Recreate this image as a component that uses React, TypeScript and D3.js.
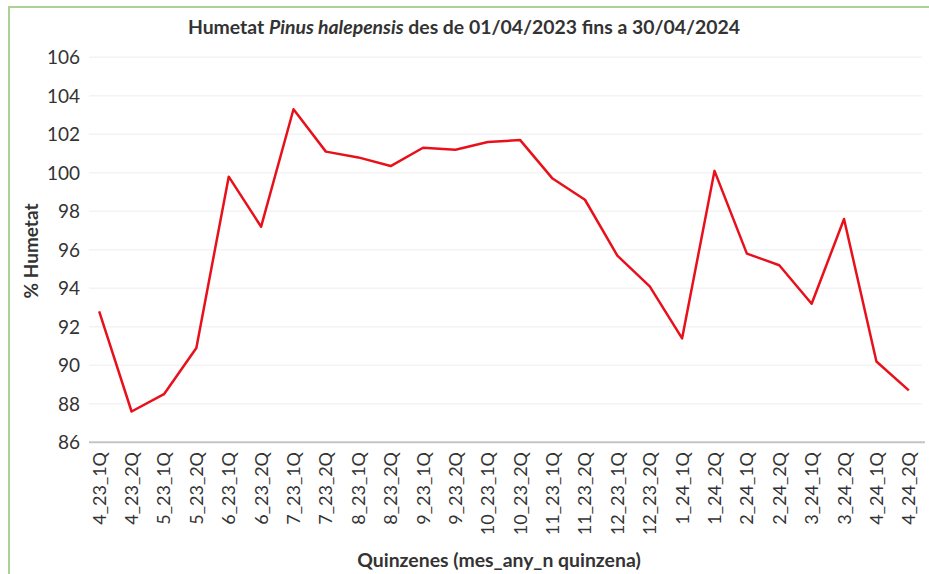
import { useEffect, useRef } from 'react';
import * as d3 from 'd3';

const categories = [
  '4_23_1Q', '4_23_2Q', '5_23_1Q', '5_23_2Q', '6_23_1Q', '6_23_2Q', '7_23_1Q',
  '7_23_2Q', '8_23_1Q', '8_23_2Q', '9_23_1Q', '9_23_2Q', '10_23_1Q', '10_23_2Q',
  '11_23_1Q', '11_23_2Q', '12_23_1Q', '12_23_2Q', '1_24_1Q', '1_24_2Q', '2_24_1Q',
  '2_24_2Q', '3_24_1Q', '3_24_2Q', '4_24_1Q', '4_24_2Q',
];

const humetat = [
  92.8, 87.6, 88.5, 90.9, 99.8, 97.2, 103.3, 101.1, 100.8, 100.35, 101.3, 101.2,
  101.6, 101.7, 99.7, 98.6, 95.7, 94.1, 91.4, 100.1, 95.8, 95.2, 93.2, 97.6, 90.2, 88.7,
];

const yTicks = [86, 88, 90, 92, 94, 96, 98, 100, 102, 104, 106];

const W = 929;
const H = 574;
const FONT = 'Lato, "Open Sans", sans-serif';

export default function App() {
  const svgRef = useRef<SVGSVGElement>(null);

  useEffect(() => {
    const svg = d3.select(svgRef.current);
    svg.selectAll('*').remove();

    const x = d3.scaleBand<string>().domain(categories).range([83, 925]);
    const y = d3.scaleLinear().domain([86, 106]).range([442.3, 57.3]);

    // green frame
    svg.append('rect')
      .attr('x', 9).attr('y', 7)
      .attr('width', W + 20).attr('height', H + 20)
      .attr('fill', 'white')
      .attr('stroke', '#acd292')
      .attr('stroke-width', 2);

    // grid
    svg.append('g')
      .selectAll('line')
      .data(yTicks.slice(1))
      .enter().append('line')
      .attr('x1', 89).attr('x2', 922)
      .attr('y1', d => y(d)).attr('y2', d => y(d))
      .attr('stroke', '#f3f3f3')
      .attr('stroke-width', 1.5);

    // x axis baseline
    svg.append('line')
      .attr('x1', 89).attr('x2', 925)
      .attr('y1', y(86)).attr('y2', y(86))
      .attr('stroke', '#c4c4c4')
      .attr('stroke-width', 2);

    // y tick labels
    svg.append('g')
      .selectAll('text')
      .data(yTicks)
      .enter().append('text')
      .attr('x', 80)
      .attr('y', d => y(d))
      .attr('dy', '0.36em')
      .attr('text-anchor', 'end')
      .style('font-family', FONT)
      .style('font-size', '19px')
      .style('fill', '#333')
      .text(d => d);

    // x tick labels
    svg.append('g')
      .selectAll('text')
      .data(categories)
      .enter().append('text')
      .attr('transform', d => `translate(${x(d)! + x.bandwidth() / 2},452) rotate(-90)`)
      .attr('dy', '0.36em')
      .attr('text-anchor', 'end')
      .style('font-family', FONT)
      .style('font-size', '18px')
      .style('fill', '#333')
      .text(d => d);

    // line
    const line = d3.line<number>()
      .x((_, i) => x(categories[i])! + x.bandwidth() / 2)
      .y(d => y(d));

    svg.append('path')
      .datum(humetat)
      .attr('d', line)
      .attr('fill', 'none')
      .attr('stroke', '#e8111b')
      .attr('stroke-width', 2.5)
      .attr('stroke-linejoin', 'round');

    // title
    const title = svg.append('text')
      .attr('x', 464)
      .attr('y', 34)
      .attr('text-anchor', 'middle')
      .style('font-family', FONT)
      .style('font-size', '19.4px')
      .style('font-weight', 'bold')
      .style('fill', '#333');
    title.append('tspan').text('Humetat ');
    title.append('tspan').style('font-style', 'italic').text('Pinus halepensis');
    title.append('tspan').text(' des de 01/04/2023 fins a 30/04/2024');

    // axis titles
    svg.append('text')
      .attr('x', 499)
      .attr('y', 567)
      .attr('text-anchor', 'middle')
      .style('font-family', FONT)
      .style('font-size', '19.4px')
      .style('font-weight', 'bold')
      .style('fill', '#333')
      .text('Quinzenes (mes_any_n quinzena)');

    svg.append('text')
      .attr('transform', 'translate(38,251) rotate(-90)')
      .attr('text-anchor', 'middle')
      .style('font-family', FONT)
      .style('font-size', '19px')
      .style('font-weight', 'bold')
      .style('fill', '#333')
      .text('% Humetat');
  }, []);

  return (
    <svg
      ref={svgRef}
      width={W}
      height={H}
      style={{ position: 'absolute', left: 0, top: 0, background: 'white' }}
    />
  );
}
